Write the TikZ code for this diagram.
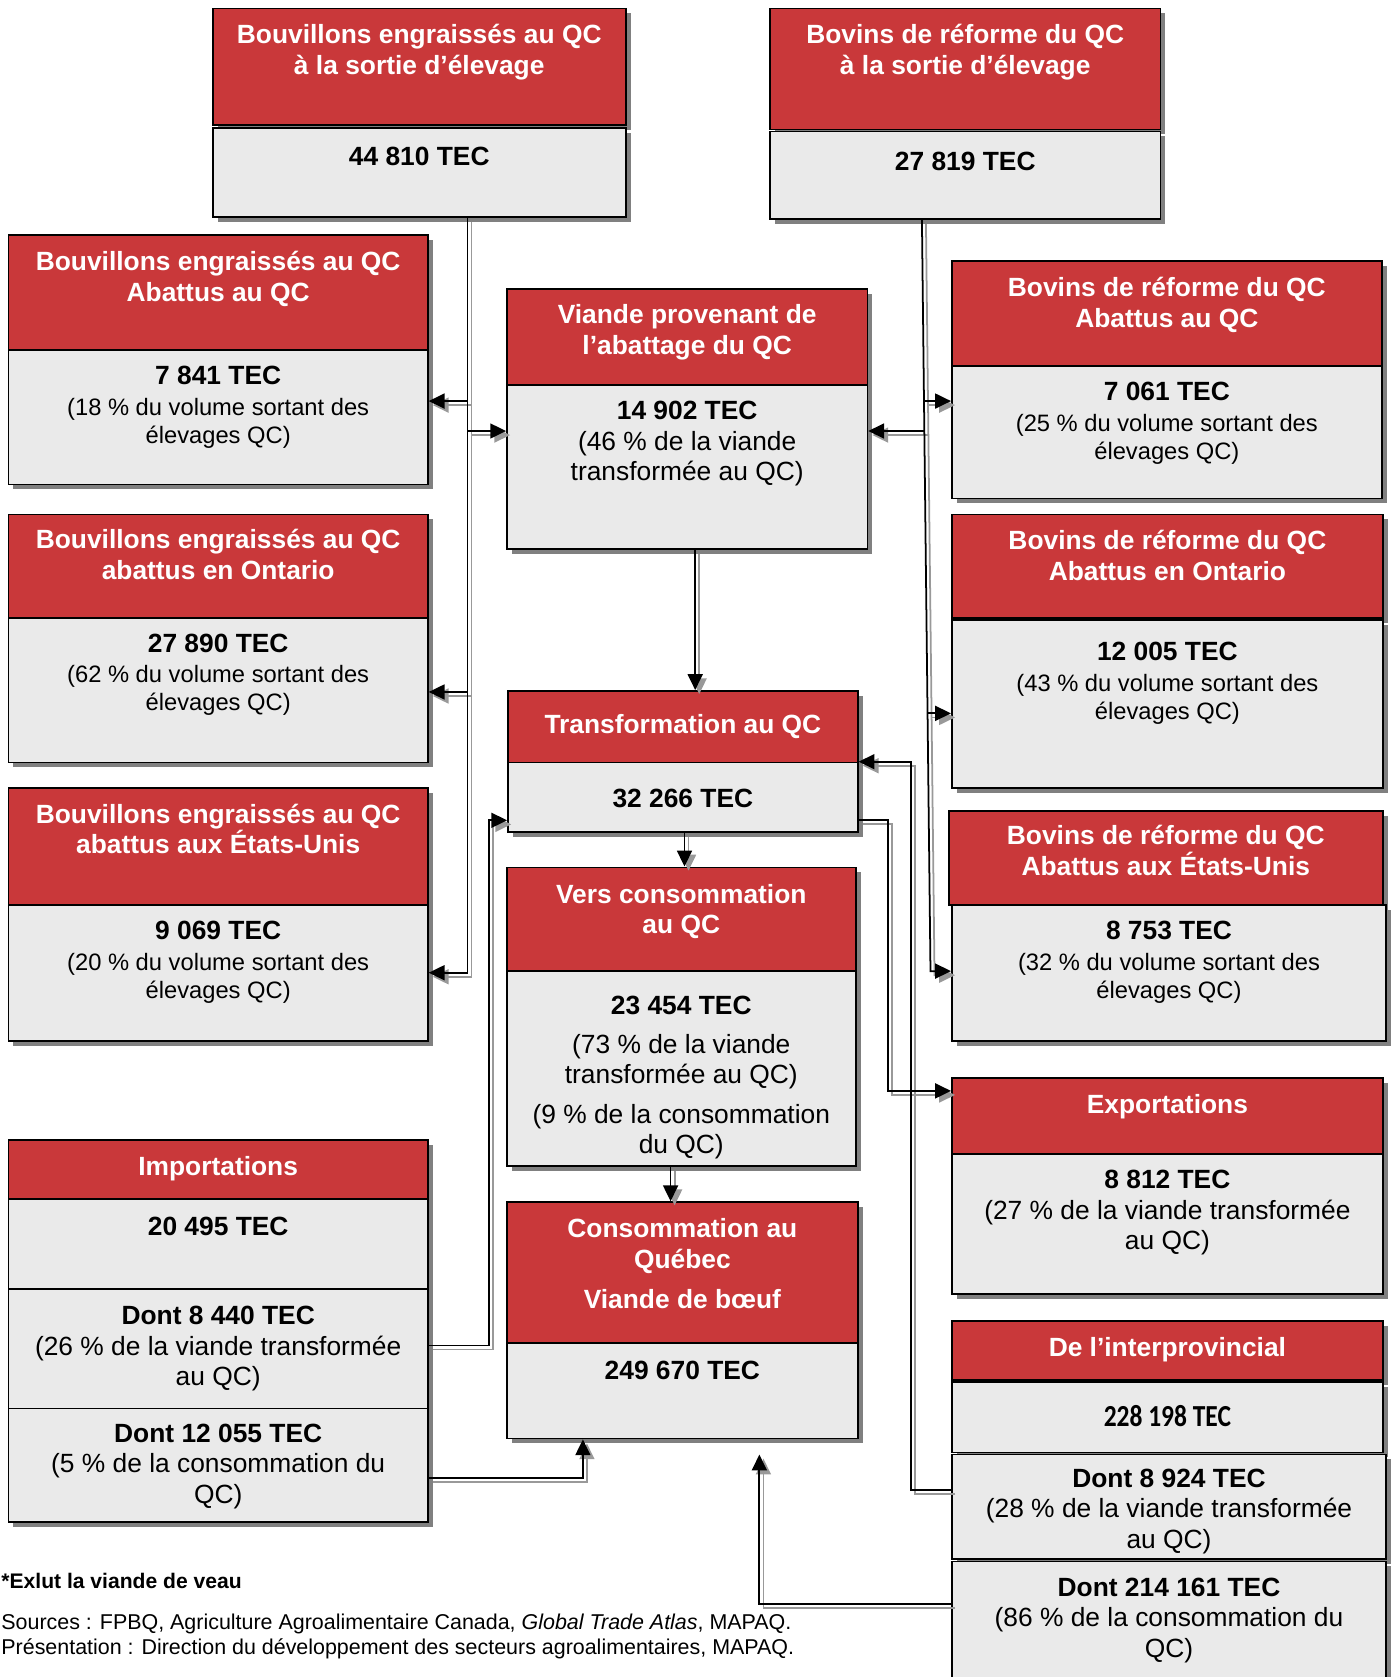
\documentclass[tikz,border=0pt]{standalone}
\usepackage{fontspec}
\setmainfont{Liberation Sans}
\newfontfamily\narrowfont{Carlito}
\usetikzlibrary{positioning, fit, shadows, arrows.meta}
\definecolor{qcred}{RGB}{201,56,58}
\definecolor{qcgray}{RGB}{234,234,234}
\definecolor{qcshade}{RGB}{128,128,128}

\newcommand\tec[1]{{\fontsize{15}{17}\selectfont\bfseries #1}}

\tikzset{
  cell/.style={draw, line width=1pt, inner sep=0pt,
    drop shadow={shadow xshift=2.8pt, shadow yshift=-2.8pt, opacity=1, fill=qcshade}},
  head/.style={cell, fill=qcred},
  body/.style={cell, fill=qcgray},
  headtext/.style={text=white, font=\bfseries\fontsize{15}{17.6}\selectfont, align=center, inner sep=0pt, yshift=-1.2pt},
  midtext/.style={font=\fontsize{15}{17.3}\selectfont, align=center, inner sep=0pt, yshift=-1.2pt},
  sidetext/.style={font=\fontsize{13.5}{15.8}\selectfont, align=center, inner sep=0pt, yshift=-1.2pt},
  flow/.style={line width=1pt, -{Triangle[length=9pt, width=8.5pt]}},
  flowshade/.style={flow, draw=black!40, transform canvas={shift={(2.3pt,-2.3pt)}}},
}

\begin{document}
\begin{tikzpicture}[x=0.0214cm, y=-0.0214cm]
  \useasboundingbox (0,0) rectangle (1300,1568);

  % exits from the farms
  \node[head, fit={(199,8) (585,117)}] (bouvSortieH) {};
  \node[headtext, below=7.9pt of bouvSortieH.north] (bouvSortieHt) {Bouvillons engraissés au QC\\à la sortie d’élevage};
  \node[body, fit={(199,120) (585,203)}] (bouvSortie) {};
  \node[midtext, below=9.7pt of bouvSortie.north] (bouvSortieT) {\textbf{44 810 TEC}};

  \node[head, fit={(720,8) (1085,121)}] (bovSortieH) {};
  \node[headtext, below=7.9pt of bovSortieH.north] (bovSortieHt) {Bovins de réforme du QC\\à la sortie d’élevage};
  \node[body, fit={(720,123) (1085,205)}] (bovSortie) {};
  \node[midtext, below=10.9pt of bovSortie.north] (bovSortieT) {\textbf{27 819 TEC}};

  % left column
  \node[head, fit={(8,220) (400,327)}] (bouvQcH) {};
  \node[headtext, below=7.9pt of bouvQcH.north] (bouvQcHt) {Bouvillons engraissés au QC\\Abattus au QC};
  \node[body, fit={(8,327) (400,453)}] (bouvQc) {};
  \node[sidetext, below=8.5pt of bouvQc.north] (bouvQcT) {\tec{7 841 TEC}\\[1.8pt](18 \% du volume sortant des\\élevages QC)};

  \node[head, fit={(8,481) (400,578)}] (bouvOnH) {};
  \node[headtext, below=7.3pt of bouvOnH.north] (bouvOnHt) {Bouvillons engraissés au QC\\abattus en Ontario};
  \node[body, fit={(8,578) (400,713)}] (bouvOn) {};
  \node[sidetext, below=7.9pt of bouvOn.north] (bouvOnT) {\tec{27 890 TEC}\\[1.8pt](62 \% du volume sortant des\\élevages QC)};

  \node[head, fit={(8,737) (400,846)}] (bouvUsH) {};
  \node[headtext, below=7.9pt of bouvUsH.north] (bouvUsHt) {Bouvillons engraissés au QC\\abattus aux États-Unis};
  \node[body, fit={(8,846) (400,973)}] (bouvUs) {};
  \node[sidetext, below=8.5pt of bouvUs.north] (bouvUsT) {\tec{9 069 TEC}\\[1.8pt](20 \% du volume sortant des\\élevages QC)};

  \node[head, fit={(8,1066) (400,1121)}] (importH) {};
  \node[headtext, below=8.5pt of importH.north] (importHt) {Importations};
  \node[body, fit={(8,1121) (400,1205)}] (import) {};
  \node[midtext, below=9.7pt of import.north] (importT) {\textbf{20 495 TEC}};
  \node[body, fit={(8,1205) (400,1317)}] (import2) {};
  \node[midtext, below=9.1pt of import2.north] (import2T) {\textbf{Dont 8 440 TEC}\\(26 \% de la viande transformée\\au QC)};
  \node[body, fit={(8,1317) (400,1423)}] (import3) {};
  \node[midtext, below=7.9pt of import3.north] (import3T) {\textbf{Dont 12 055 TEC}\\(5 \% de la consommation du\\QC)};

  % middle column
  \node[head, fit={(474,270) (811,360)}] (abatQcH) {};
  \node[headtext, below=7.9pt of abatQcH.north] (abatQcHt) {Viande provenant de\\l’abattage du QC};
  \node[body, fit={(474,360) (811,513)}] (abatQc) {};
  \node[midtext, below=8.5pt of abatQc.north] (abatQcT) {\textbf{14 902 TEC}\\(46 \% de la viande\\transformée au QC)};

  \node[head, fit={(475,646) (802,713)}] (transfH) {};
  \node[headtext, below=12.7pt of transfH.north] (transfHt) {Transformation au QC};
  \node[body, fit={(475,713) (802,778)}] (transf) {};
  \node[midtext, below=14pt of transf.north] (transfT) {\textbf{32 266 TEC}};

  \node[head, fit={(474,811) (800,908)}] (versConsoH) {};
  \node[headtext, below=8.5pt of versConsoH.north] (versConsoHt) {Vers consommation\\au QC};
  \node[body, fit={(474,908) (800,1090)}] (versConso) {};
  \node[midtext, below=13.4pt of versConso.north] (versConsoT) {\textbf{23 454 TEC}\\[4.6pt](73 \% de la viande\\transformée au QC)\\[5.2pt](9 \% de la consommation\\du QC)};

  \node[head, fit={(474,1124) (802,1256)}] (consoH) {};
  \node[headtext, below=8.5pt of consoH.north] (consoHt) {Consommation au\\Québec\\[4.9pt]Viande de bœuf};
  \node[body, fit={(474,1256) (802,1345)}] (conso) {};
  \node[midtext, below=9.1pt of conso.north] (consoT) {\textbf{249 670 TEC}};

  % right column
  \node[head, fit={(890,244) (1292,342)}] (bovQcH) {};
  \node[headtext, below=8.5pt of bovQcH.north] (bovQcHt) {Bovins de réforme du QC\\Abattus au QC};
  \node[body, fit={(890,342) (1292,466)}] (bovQc) {};
  \node[sidetext, below=8.5pt of bovQc.north] (bovQcT) {\tec{7 061 TEC}\\[1.8pt](25 \% du volume sortant des\\élevages QC)};

  \node[head, fit={(890,481) (1293,578)}] (bovOnH) {};
  \node[headtext, below=7.9pt of bovOnH.north] (bovOnHt) {Bovins de réforme du QC\\Abattus en Ontario};
  \node[body, fit={(890,580) (1293,737)}] (bovOn) {};
  \node[sidetext, below=11.5pt of bovOn.north] (bovOnT) {\tec{12 005 TEC}\\[1.8pt](43 \% du volume sortant des\\élevages QC)};

  \node[head, fit={(887,758) (1293,846)}] (bovUsH) {};
  \node[headtext, below=7.3pt of bovUsH.north] (bovUsHt) {Bovins de réforme du QC\\Abattus aux États-Unis};
  \node[body, fit={(890,846) (1296,973)}] (bovUs) {};
  \node[sidetext, below=8.5pt of bovUs.north] (bovUsT) {\tec{8 753 TEC}\\[1.8pt](32 \% du volume sortant des\\élevages QC)};

  \node[head, fit={(890,1008) (1293,1079)}] (exportH) {};
  \node[headtext, below=8.5pt of exportH.north] (exportHt) {Exportations};
  \node[body, fit={(890,1079) (1293,1210)}] (export) {};
  \node[midtext, below=8.5pt of export.north] (exportT) {\textbf{8 812 TEC}\\(27 \% de la viande transformée\\au QC)};

  \node[head, fit={(890,1235) (1293,1290)}] (interH) {};
  \node[headtext, below=8.5pt of interH.north] (interHt) {De l’interprovincial};
  \node[body, fit={(890,1292) (1293,1358)}] (inter) {};
  \node[midtext, below=12.7pt of inter.north] (interT) {\scalebox{1}[1.2]{\narrowfont\bfseries\fontsize{14.5}{17}\selectfont 228 198 TEC}};
  \node[body, fit={(890,1360) (1296,1458)}] (inter2) {};
  \node[midtext, below=7.3pt of inter2.north] (inter2T) {\textbf{Dont 8 924 TEC}\\(28 \% de la viande transformée\\au QC)};
  \node[body, fit={(890,1460) (1296,1600)}] (inter3) {};
  \node[midtext, below=8.5pt of inter3.north] (inter3T) {\textbf{Dont 214 161 TEC}\\(86 \% de la consommation du\\QC)};

  % notes
  \node[anchor=west, inner sep=0pt, font=\bfseries\fontsize{12}{14}\selectfont] (note) at (1,1478) {*Exlut la viande de veau};
  \node[anchor=north west, inner sep=0pt, align=left, font=\fontsize{12.2}{14}\selectfont] (sources) at (1,1509)
    {Sources : FPBQ, Agriculture Agroalimentaire Canada, \textit{Global Trade Atlas}, MAPAQ.\\Présentation : Direction du développement des secteurs agroalimentaires, MAPAQ.};

  % where the flows bend
  \coordinate (lt) at (437,0);
  \coordinate (l1) at (437,375);
  \coordinate (l2) at (437,403);
  \coordinate (l3) at (437,647);
  \coordinate (rtTop) at (862,0);
  \coordinate (rtBot) at (870,908);
  \coordinate (r1) at (863.5,375);
  \coordinate (r2) at (864,403);
  \coordinate (r3) at (867,667);
  \coordinate (m1) at (650,0);
  \coordinate (m2) at (640,0);
  \coordinate (m3) at (627,0);
  \coordinate (c1) at (852,1393);
  \coordinate (c2) at (830,767);
  \coordinate (c3) at (830,1020);
  \coordinate (c4) at (457,1258);
  \coordinate (c5) at (457,767);
  \coordinate (c6) at (545,1382);
  \coordinate (c7) at (710,1500);
  \coordinate (c8) at (710,1360);

  % shaded copy first, then the black line
  \foreach \flowstyle in {flowshade, flow} {
    \draw[\flowstyle] (bouvSortie.south -| lt) |- (bouvUs.east);
    \draw[\flowstyle] (l1) -- (l1 -| bouvQc.east);
    \draw[\flowstyle] (l2) -- (l2 -| abatQc.west);
    \draw[\flowstyle] (l3) -- (l3 -| bouvOn.east);
    \draw[\flowstyle] (bovSortie.south -| rtTop) -- (rtBot) -- (rtBot -| bovUs.west);
    \draw[\flowstyle] (r1) -- (r1 -| bovQc.west);
    \draw[\flowstyle] (r2) -- (r2 -| abatQc.east);
    \draw[\flowstyle] (r3) -- (r3 -| bovOn.west);
    \draw[\flowstyle] (abatQc.south -| m1) -- (transfH.north -| m1);
    \draw[\flowstyle] (transf.south -| m2) -- (versConsoH.north -| m2);
    \draw[\flowstyle] (versConso.south -| m3) -- (consoH.north -| m3);
    \draw[\flowstyle] (c1 -| inter2.west) -- (c1) |- (transf.north east);
    \draw[\flowstyle] (c2 -| transf.east) -- (c2) |- (c3 -| exportH.west);
    \draw[\flowstyle] (c4 -| import2.east) -- (c4) |- (c5 -| transf.west);
    \draw[\flowstyle] (c6 -| import3.east) -- (c6) -- (c6 |- conso.south);
    \draw[\flowstyle] (c7 -| inter3.west) -- (c7) -- (c8);
  }
\end{tikzpicture}
\end{document}
